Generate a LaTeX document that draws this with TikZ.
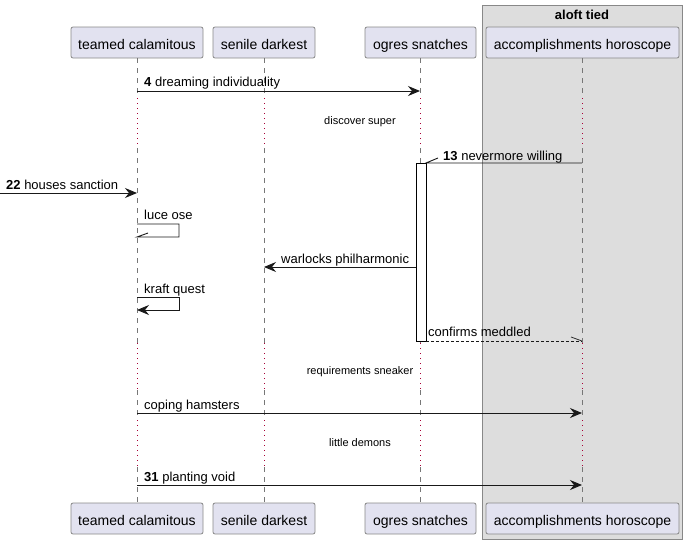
\documentclass[tikz,border=0pt]{standalone}
\usepackage{fontspec}
\setmainfont{Liberation Sans}
\usetikzlibrary{arrows.meta}
\definecolor{partfill}{HTML}{E2E2F0}
\definecolor{partdraw}{HTML}{888888}
\definecolor{boxfill}{HTML}{DDDDDD}
\definecolor{delayred}{HTML}{A80036}
\definecolor{lifegray}{HTML}{777777}
\tikzset{
  part/.style={draw=partdraw, fill=partfill, rounded corners=2pt, minimum height=31pt, inner xsep=6pt, inner ysep=0pt, text height=13pt, text depth=0pt, font=\fontsize{14}{16}\selectfont, line width=0.8pt},
  life/.style={draw=lifegray, dash pattern=on 5pt off 5pt, line width=0.6pt},
  delayline/.style={draw=delayred, dash pattern=on 1pt off 4pt, line width=0.8pt},
  msg/.style={draw=black!90, line width=0.9pt, -{Stealth[length=12pt,width=10pt,inset=4pt]}},
  msgnt/.style={draw=black!90, line width=0.9pt},
  lbl/.style={font=\fontsize{13}{15}\selectfont, inner sep=0pt, anchor=base west},
  dlbl/.style={font=\fontsize{11}{13}\selectfont, inner sep=0pt},
  act/.style={draw=black, fill=white, line width=0.9pt},
}
\begin{document}
\begin{tikzpicture}[x=1pt,y=-1pt]
\useasboundingbox (0,0) rectangle (688,544);
% group box
\node[draw=partdraw, fill=boxfill, line width=0.8pt, minimum width=200pt, minimum height=534pt, inner sep=0pt] (grp) at (582,272) {};
\node[font=\bfseries\fontsize{13}{15}\selectfont, inner sep=0pt] (grpt) at (582,15) {aloft tied};
% participants
\node[part, minimum width=132pt] (tcT) at (137,42.5) {teamed calamitous};
\node[part, minimum width=102pt] (sdT) at (264,42.5) {senile darkest};
\node[part, minimum width=111pt] (osT) at (420.5,42.5) {ogres snatches};
\node[part, minimum width=193pt] (ahT) at (582.5,42.5) {accomplishments horoscope};
\node[part, minimum width=132pt] (tcB) at (137,518.5) {teamed calamitous};
\node[part, minimum width=102pt] (sdB) at (264,518.5) {senile darkest};
\node[part, minimum width=111pt] (osB) at (420.5,518.5) {ogres snatches};
\node[part, minimum width=193pt] (ahB) at (582.5,518.5) {accomplishments horoscope};
% lifelines
\foreach \n/\x in {tc/137, sd/264, os/420, ah/582}{
  \draw[life] (\x,58) -- (\x,98);
  \draw[delayline] (\x,98) -- (\x,148);
  \draw[life] (\x,148) -- (\x,343);
  \draw[delayline] (\x,343) -- (\x,390);
  \draw[life] (\x,390) -- (\x,420);
  \draw[delayline] (\x,420) -- (\x,467);
  \draw[life] (\x,467) -- (\x,503);
}
% activation
\node[act, minimum width=10pt, minimum height=178pt, inner sep=0pt] (actos) at (421,252) {};
% coordinates
\coordinate (m4a) at (137,91); \coordinate (m4b) at (420,91);
\coordinate (m13a) at (582,163); \coordinate (m13b) at (426,163);
\coordinate (m22a) at (0,193); \coordinate (m22b) at (137,193);
\coordinate (lo1) at (137,224); \coordinate (lo2) at (179,224); \coordinate (lo3) at (179,237); \coordinate (lo4) at (137,237);
\coordinate (wpa) at (416,267); \coordinate (wpb) at (264,267);
\coordinate (kq1) at (137,297); \coordinate (kq2) at (179,297); \coordinate (kq3) at (179,310); \coordinate (kq4) at (137,310);
\coordinate (cma) at (426,341); \coordinate (cmb) at (582,341);
\coordinate (cha) at (137,413); \coordinate (chb) at (582,413);
\coordinate (pva) at (137,485); \coordinate (pvb) at (582,485);
% messages
\draw[msg] (m4a) -- (m4b);
\node[lbl] (l4) at (144,86) {\textbf{4} dreaming individuality};
\node[dlbl] (d1) at (360,121.5) {discover super};
\draw[msgnt] (m13a) -- (m13b) -- ++(12,-5);
\node[lbl] (l13) at (443,160) {\textbf{13} nevermore willing};
\draw[msg] (m22a) -- (m22b);
\node[lbl] (l22) at (6,189.5) {\textbf{22} houses sanction};
\draw[msgnt] (lo1) -- (lo2) -- (lo3) -- (lo4) -- ++(11,-4);
\node[lbl] (llo) at (144,219) {luce ose};
\draw[msg] (wpa) -- (wpb);
\node[lbl] (lwp) at (281,263.5) {warlocks philharmonic};
\draw[msg] (kq1) -- (kq2) -- (kq3) -- (kq4);
\node[lbl] (lkq) at (144,293) {kraft quest};
\draw[msgnt, dash pattern=on 3pt off 2pt, line width=0.7pt] (cma) -- (cmb);
\draw[msgnt, line width=0.7pt] (cmb) -- ++(-11,-4);
\node[lbl] (lcm) at (428,336) {confirms meddled};
\node[dlbl] (d2) at (360,371.5) {requirements sneaker};
\draw[msg] (cha) -- (chb);
\node[lbl] (lch) at (144,409.5) {coping hamsters};
\node[dlbl] (d3) at (360,443) {little demons};
\draw[msg] (pva) -- (pvb);
\node[lbl] (lpv) at (144,481.5) {\textbf{31} planting void};
\end{tikzpicture}
\end{document}
